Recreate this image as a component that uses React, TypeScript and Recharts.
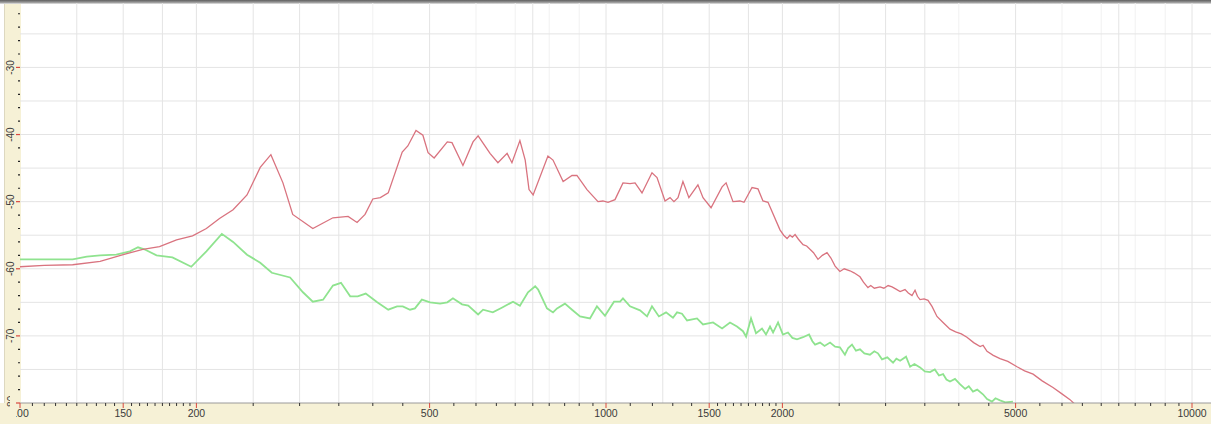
import React from 'react';
import { LineChart, Line, XAxis, YAxis, ReferenceLine } from 'recharts';

// red trace (Hz, dB)
const redFreq = [
  100, 110, 123, 137, 150, 162, 173, 185, 197, 208, 219, 231, 244, 257, 268, 281, 292, 316, 342, 363, 376, 388,
  400, 412, 425, 449, 459, 474, 487, 497, 509, 536, 546, 570, 593, 605, 634, 654, 678, 691, 713, 728, 739, 751,
  796, 812, 845, 875, 892, 928, 969, 988, 1008, 1036, 1069, 1099, 1121, 1152, 1198, 1222, 1261, 1286, 1306, 1327,
  1353, 1385, 1435, 1464, 1511, 1578, 1603, 1647, 1693, 1720, 1775, 1817, 1853, 1890, 1981, 2010, 2037, 2060,
  2080, 2102, 2130, 2169, 2200, 2229, 2260, 2300, 2340, 2383, 2420, 2460, 2507, 2550, 2608, 2650, 2713, 2750,
  2799, 2830, 2870, 2935, 2980, 3030, 3077, 3120, 3176, 3238, 3280, 3328, 3368, 3400, 3435, 3490, 3544, 3600,
  3671, 3760, 3864, 3950, 4040, 4130, 4240, 4350, 4400, 4469, 4580, 4703, 4850, 5028, 5180, 5356, 5550, 5791,
  5990, 6192, 6314,
];
const redDb = [
  -59.7, -59.5, -59.4, -58.9, -57.9, -57.1, -56.7, -55.7, -55.1, -54.0, -52.5, -51.2, -49.0, -44.9, -43.0, -47.2,
  -51.9, -54.0, -52.4, -52.2, -53.1, -51.9, -49.6, -49.4, -48.7, -42.6, -41.7, -39.4, -40.1, -42.7, -43.5, -41.1,
  -41.2, -44.6, -41.1, -40.2, -42.8, -44.2, -42.8, -44.2, -40.9, -43.8, -48.2, -49.0, -43.2, -43.8, -47.0, -46.1,
  -46.1, -48.2, -50.0, -49.9, -50.1, -49.7, -47.2, -47.3, -47.2, -48.7, -45.7, -46.4, -49.9, -49.4, -50.0, -49.4,
  -47.0, -49.4, -47.5, -49.4, -50.9, -47.8, -47.2, -50.0, -49.9, -50.1, -47.9, -48.1, -49.9, -50.1, -54.2, -55.0,
  -55.5, -55.0, -55.3, -54.9, -55.6, -56.4, -56.6, -57.1, -57.6, -58.6, -58.0, -57.6, -58.4, -59.6, -60.4, -60.0,
  -60.3, -60.6, -61.2, -62.0, -62.8, -62.5, -62.9, -62.7, -62.9, -62.5, -62.7, -63.0, -63.4, -63.1, -63.6, -64.0,
  -63.2, -64.1, -64.6, -64.5, -64.7, -65.6, -67.1, -68.0, -69.0, -69.4, -69.7, -70.2, -71.0, -71.6, -71.4, -72.3,
  -72.9, -73.4, -73.8, -74.6, -75.2, -75.7, -76.7, -77.7, -78.6, -79.5, -80.2,
];

// green trace (Hz, dB)
const greenFreq = [
  100, 123, 130, 137, 146, 154, 159, 163, 171, 182, 196, 208, 221, 231, 244, 257, 269, 289, 304, 316, 329, 342,
  353, 366, 377, 389, 407, 425, 440, 450, 463, 472, 485, 501, 521, 536, 548, 568, 582, 605, 617, 641, 664, 694,
  713, 736, 757, 766, 793, 812, 825, 851, 875, 903, 939, 965, 996, 1032, 1057, 1069, 1099, 1143, 1175, 1198,
  1231, 1266, 1301, 1322, 1348, 1375, 1430, 1464, 1523, 1578, 1628, 1673, 1713, 1734, 1768, 1803, 1846, 1875,
  1905, 1928, 1966, 2004, 2044, 2080, 2118, 2169, 2221, 2250, 2274, 2319, 2360, 2412, 2460, 2507, 2557, 2590,
  2629, 2670, 2713, 2760, 2821, 2870, 2911, 2958, 3020, 3089, 3130, 3176, 3251, 3303, 3360, 3435, 3500, 3572,
  3640, 3700, 3760, 3810, 3864, 3940, 4018, 4100, 4160, 4229, 4300, 4398, 4470, 4557, 4620, 4703, 4800, 4948,
];
const greenDb = [
  -58.6, -58.6, -58.2, -58.0, -57.9, -57.4, -56.8, -57.1, -58.0, -58.3, -59.7, -57.4, -54.8, -56.0, -57.9, -59.1,
  -60.6, -61.3, -63.5, -64.9, -64.6, -62.5, -62.1, -64.1, -64.1, -63.7, -65.0, -66.1, -65.6, -65.6, -66.1, -65.9,
  -64.6, -65.0, -65.2, -65.0, -64.4, -65.3, -65.5, -66.8, -66.1, -66.5, -65.8, -64.9, -65.5, -63.5, -62.6, -63.1,
  -65.9, -66.5, -65.9, -65.2, -66.1, -67.1, -67.4, -65.6, -67.0, -64.9, -64.9, -64.4, -65.6, -66.2, -67.1, -65.6,
  -67.1, -66.5, -67.3, -66.5, -66.7, -67.7, -67.4, -68.3, -68.0, -68.9, -68.0, -68.6, -69.3, -70.1, -67.4, -69.6,
  -68.9, -69.8, -68.6, -69.5, -68.0, -69.8, -69.5, -70.3, -70.5, -70.2, -69.8, -70.8, -71.3, -71.0, -71.5, -71.0,
  -71.6, -71.7, -72.8, -71.8, -71.3, -72.2, -72.0, -72.6, -72.8, -72.3, -72.6, -73.5, -73.2, -74.0, -73.4, -73.7,
  -73.1, -74.6, -74.2, -74.7, -75.3, -75.4, -75.0, -75.9, -75.7, -76.5, -76.8, -76.4, -77.2, -77.9, -77.5, -78.3,
  -78.0, -78.7, -79.4, -79.8, -79.3, -79.6, -79.9, -79.8,
];

// axes
const labelFreqs = [100, 150, 200, 500, 1000, 1500, 2000, 5000, 10000];
const minorFreqs = [
  105, 110, 115, 120, 125, 130, 135, 140, 145, 155, 160, 165, 170, 175, 180, 185, 190, 195,
  250, 300, 350, 400, 450, 550, 600, 650, 700, 750, 800, 850, 900, 950,
  1100, 1200, 1300, 1400, 1550, 1600, 1650, 1700, 1750, 1800, 1850, 1900, 1950,
  2500, 3000, 3500, 4000, 4500, 5500, 6000, 6500, 7000, 7500, 8000, 8500, 9000, 9500,
];
const gridFreqs = [125, 150, 175, 200, 250, 300, 350, 500, 750, 1000, 1250, 1500, 1750, 2000, 2500, 3000, 3500, 5000, 7500, 10000];
const faintGridFreqs = [400, 600, 700, 800, 900, 4000, 6000, 7000, 8000, 9000];
const dbTicks = [-80, -78, -76, -74, -72, -70, -68, -66, -64, -62, -60, -58, -56, -54, -52, -50, -48, -46, -44, -42, -40, -38, -36, -34, -32, -30, -28, -26, -24, -22];
const dbGrid = [-75, -70, -65, -60, -55, -50, -45, -40, -35, -30, -25];

const redData = redFreq.map((f, i) => ({ f, db: redDb[i] }));
const greenData = greenFreq.map((f, i) => ({ f, db: greenDb[i] }));
const xTicks = [...labelFreqs, ...minorFreqs].sort((a, b) => a - b);

const BAND = '#f6f1d6';

const XTick = (props: any) => {
  const { x, y, payload } = props;
  const v = payload.value;
  const major = labelFreqs.includes(v);
  const id = `xclip-${v}`;
  return (
    <g>
      <clipPath id={id}>
        <rect x={16} y={y} width={1211} height={30} />
      </clipPath>
      <line x1={x} x2={x} y1={y} y2={y + (major ? 5 : 3)} stroke={major ? '#d9483f' : '#333'} strokeWidth={1} />
      {major && (
        <text x={x} y={y + 14} textAnchor="middle" fontSize={10.5} fill="#3a3a3a" clipPath={`url(#${id})`}>
          {v}
        </text>
      )}
    </g>
  );
};

const YTick = (props: any) => {
  const { x, y, payload } = props;
  const v = payload.value;
  const major = v % 10 === 0;
  const id = `yclip-${v}`;
  return (
    <g>
      <clipPath id={id}>
        <rect x={0} y={0} width={30} height={402} />
      </clipPath>
      <line x1={x - (major ? 4 : 2)} x2={x} y1={y} y2={y} stroke={major ? '#d9483f' : '#222'} strokeWidth={1.2} />
      {major && (
        <text
          x={x - 9}
          y={y}
          transform={`rotate(-90 ${x - 9} ${y})`}
          textAnchor="middle"
          dominantBaseline="central"
          fontSize={10}
          fill="#3a3a3a"
          clipPath={`url(#${id})`}
        >
          {v}
        </text>
      )}
    </g>
  );
};

export default function App() {
  return (
    <div style={{ position: 'absolute', left: 0, top: 0, width: 1211, height: 424, background: '#fff', fontFamily: '"Liberation Sans", Arial, sans-serif', overflow: 'hidden' }}>
      <div style={{ position: 'absolute', left: 4, top: 0, width: 16, height: 424, background: BAND, borderLeft: '1px solid #ddd8c0' }} />
      <div style={{ position: 'absolute', left: 0, top: 403, width: 1211, height: 21, background: BAND }} />
      <div style={{ position: 'absolute', left: 0, top: 0, width: 1211, height: 4, background: 'linear-gradient(#5f5f5f, #9a9a9a 60%, #e8e8e8)' }} />
      <div style={{ position: 'absolute', left: 0, top: 0 }}>
        <LineChart width={1211} height={424} margin={{ top: 3, right: 0, bottom: 0, left: 5 }}>
          <XAxis
            dataKey="f"
            type="number"
            scale="log"
            domain={[100, 10775]}
            allowDataOverflow
            ticks={xTicks}
            interval={0}
            height={21}
            tickSize={0}
            tickMargin={0}
            tickLine={false}
            axisLine={{ stroke: '#9a9a9a' }}
            tick={<XTick />}
          />
          <YAxis
            type="number"
            domain={[-80, -20.4]}
            allowDataOverflow
            ticks={dbTicks}
            interval={0}
            width={15}
            tickSize={0}
            tickMargin={0}
            tickLine={false}
            axisLine={false}
            tick={<YTick />}
          />
          {faintGridFreqs.map((f) => (
            <ReferenceLine key={'ff' + f} x={f} stroke="#f1f1f1" strokeWidth={1} />
          ))}
          {gridFreqs.map((f) => (
            <ReferenceLine key={'gf' + f} x={f} stroke="#e4e4e4" strokeWidth={1} />
          ))}
          {dbGrid.map((d) => (
            <ReferenceLine key={'gd' + d} y={d} stroke="#e4e4e4" strokeWidth={1} />
          ))}
          <Line data={greenData} dataKey="db" type="linear" stroke="#8fe38f" strokeWidth={1.8} dot={false} isAnimationActive={false} />
          <Line data={redData} dataKey="db" type="linear" stroke="#d9737f" strokeWidth={1.3} dot={false} isAnimationActive={false} />
        </LineChart>
      </div>
    </div>
  );
}
